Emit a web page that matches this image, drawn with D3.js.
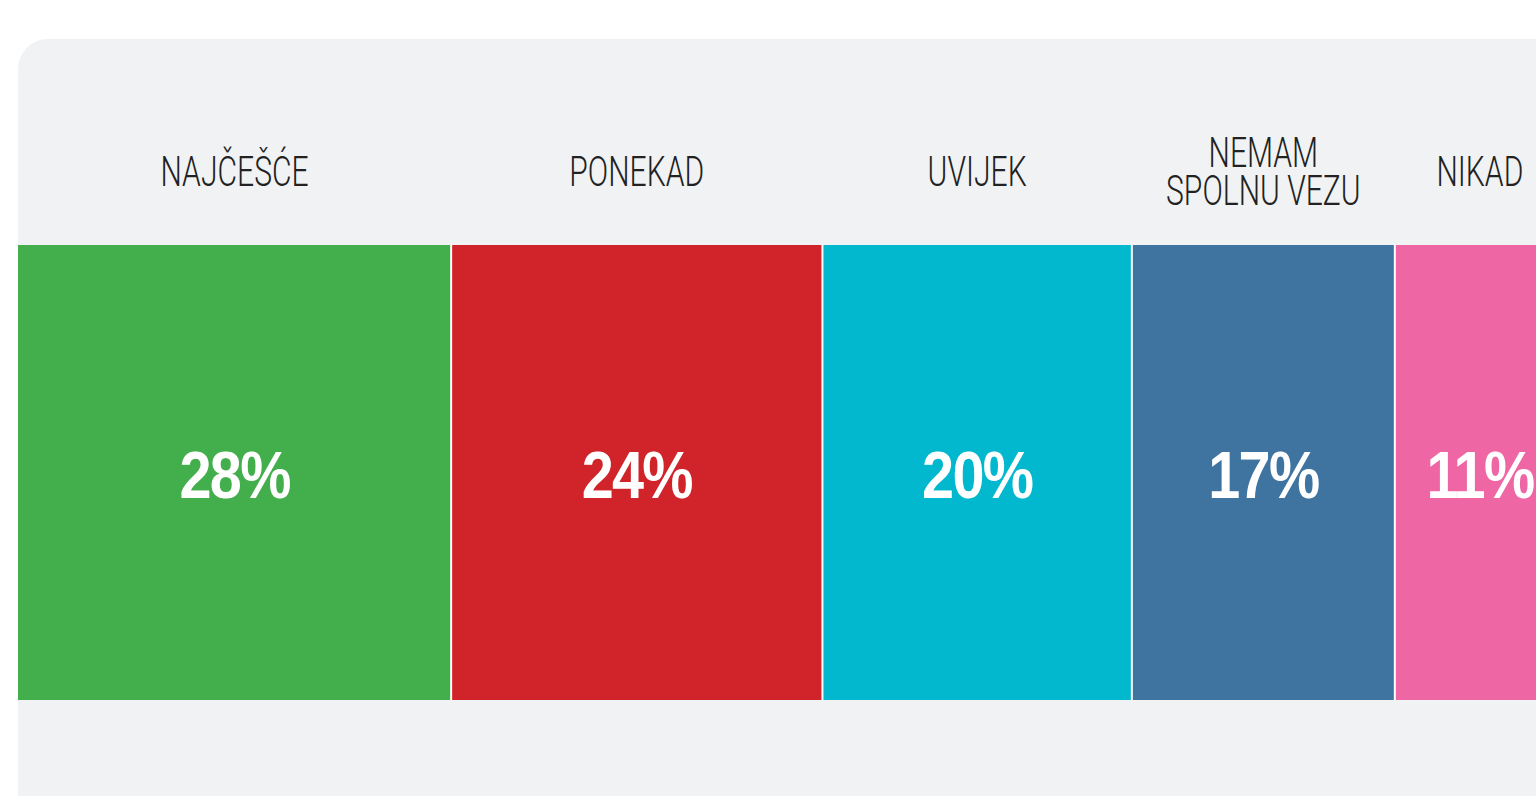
<!DOCTYPE html>
<html>
<head>
<meta charset="utf-8">
<script src="https://cdn.jsdelivr.net/npm/d3@7"></script>
<style>
  html, body { margin: 0; padding: 0; background: #fff; overflow: hidden; }
  svg { display: block; }
</style>
</head>
<body>
<div id="chart"></div>
<script>
// data
const categories = [["NAJČEŠĆE"], ["PONEKAD"], ["UVIJEK"], ["NEMAM", "SPOLNU VEZU"], ["NIKAD"]];
const values = [28, 24, 20, 17, 11];
const colors = ["#43ae4c", "#d0232a", "#02b8ce", "#3f74a0", "#ef66a5"];

const W = 1536, H = 796;

const margin = {
  top:    245,
  left:   18,
  bottom: 96
};

// full bar runs past the right edge like in the source
const barWidth = 1547;
const barTop = margin.top;
const barBottom = H - margin.bottom;

const svg = d3.select("#chart").append("svg")
  .attr("width", W)
  .attr("height", H);

// panel background
svg.append("rect")
  .attr("x", margin.left)
  .attr("y", 39)
  .attr("width", W + 100)
  .attr("height", H + 100)
  .attr("rx", 30)
  .attr("fill", "#f1f2f4");

const total = d3.sum(values);
const starts = d3.cumsum([0].concat(values.slice(0, -1)));

const x = d3.scaleLinear().domain([0, total]).range([margin.left, margin.left + barWidth]);
const y = d3.scaleLinear().domain([0, 1]).range([barBottom, barTop]);

const data = values.map((v, i) => ({ v, start: starts[i], label: categories[i], color: colors[i] }));

const seg = svg.append("g").selectAll("g")
  .data(data)
  .join("g");

seg.append("rect")
  .attr("x", d => x(d.start))
  .attr("y", y(1))
  .attr("width", d => x(d.start + d.v) - x(d.start))
  .attr("height", y(0) - y(1))
  .attr("fill", d => d.color);

// white separators
seg.filter((d, i) => i > 0).append("line")
  .attr("x1", d => x(d.start))
  .attr("x2", d => x(d.start))
  .attr("y1", y(1))
  .attr("y2", y(0))
  .attr("stroke", "#fff")
  .attr("stroke-width", 2);

// value labels
seg.append("text")
  .attr("transform", d => {
    const cx = (x(d.start) + x(d.start + d.v)) / 2;
    const cy = (y(0) + y(1)) / 2 + 25;
    return "translate(" + cx + "," + cy + ") scale(0.86,1)";
  })
  .attr("text-anchor", "middle")
  .attr("font-family", "'Liberation Sans Narrow', 'Liberation Sans', sans-serif")
  .attr("font-weight", "bold")
  .attr("font-size", 67)
  .attr("letter-spacing", -2)
  .attr("fill", "#fff")
  .text(d => d.v + "%");

// category labels
const labelMid = 171;
const lineGap = 38;
seg.append("text")
  .attr("transform", d => {
    const cx = (x(d.start) + x(d.start + d.v)) / 2;
    return "translate(" + cx + ",0) scale(0.70,1)";
  })
  .attr("text-anchor", "middle")
  .attr("font-family", "Roboto, sans-serif")
  .attr("font-weight", 300)
  .attr("font-size", 43)
  .attr("fill", "#222")
  .selectAll("tspan")
  .data(d => d.label.map((t, j) => ({ t, j, n: d.label.length })))
  .join("tspan")
  .attr("x", 0)
  .attr("y", d => labelMid + 15.5 + (d.j - (d.n - 1) / 2) * lineGap)
  .text(d => d.t);
</script>
</body>
</html>
